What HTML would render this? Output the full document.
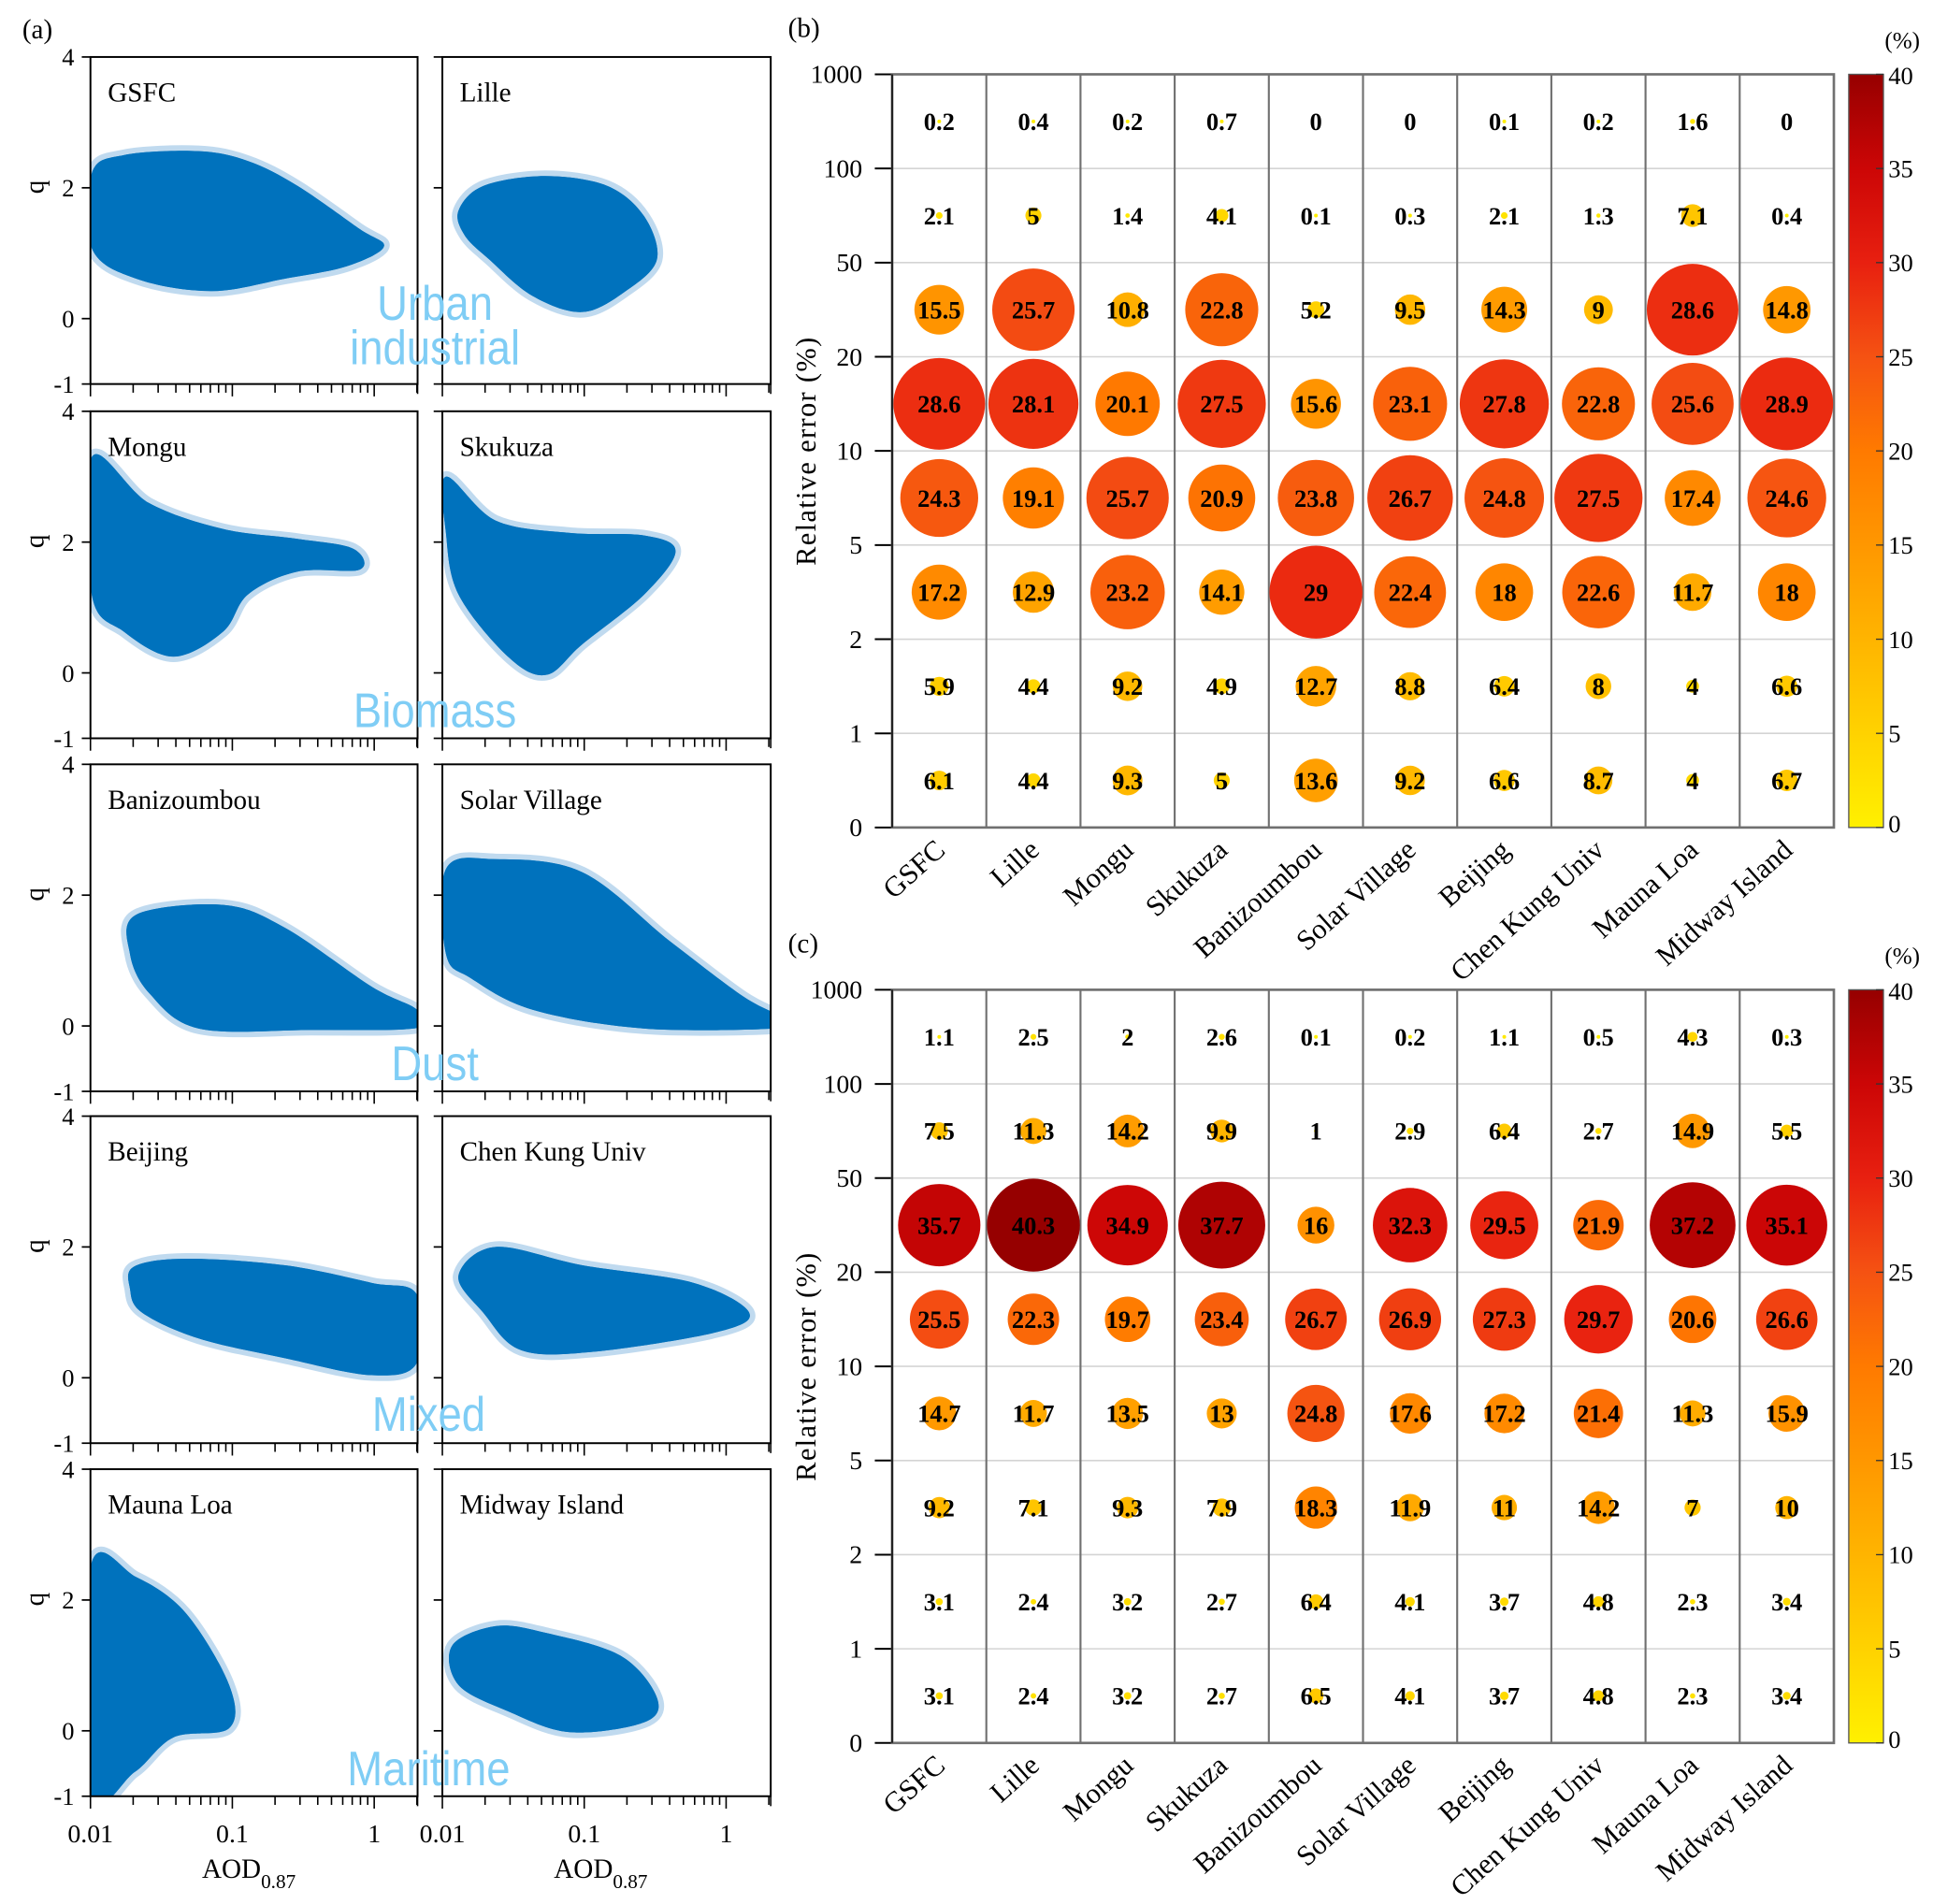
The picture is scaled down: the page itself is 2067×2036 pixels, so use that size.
<!DOCTYPE html>
<html><head><meta charset="utf-8"><style>
html,body{margin:0;padding:0;background:#fff;}
svg{display:block;}
.serif{font-family:"Liberation Serif",serif;}
.sans{font-family:"Liberation Sans",sans-serif;}
</style></head><body>
<svg id="fig" xmlns="http://www.w3.org/2000/svg" width="2067" height="2036" viewBox="0 0 1560 1537" preserveAspectRatio="none">
<defs>
<linearGradient id="cmap" x1="0" y1="1" x2="0" y2="0">
<stop offset="0" stop-color="#fff000"/><stop offset="0.25" stop-color="#ffb400"/>
<stop offset="0.5" stop-color="#ff7a00"/><stop offset="0.625" stop-color="#f55212"/>
<stop offset="0.75" stop-color="#e82010"/><stop offset="0.875" stop-color="#cc0606"/>
<stop offset="1" stop-color="#960000"/></linearGradient>
</defs>
<g id="pa"></g>
<g id="pb"></g>
<g id="pc"></g>
</svg>
<script>
// ---- panel (a) data: cloud outlines [AOD, q]
const siteNamesA = ["GSFC","Lille","Mongu","Skukuza","Banizoumbou","Solar Village","Beijing","Chen Kung Univ","Mauna Loa","Midway Island"];
const typeLabels = [["Urban","industrial"],["Biomass"],["Dust"],["Mixed"],["Maritime"]];
const cloudGSFC = [[0.0102,2.22],[0.0172,2.5],[0.0575,2.56],[0.129,2.41],[0.288,2.03],[0.79,1.37],[1.17,1.1],[0.64,0.8],[0.235,0.61],[0.071,0.42],[0.021,0.61],[0.0102,1.08]];
const cloudLille = [[0.013,1.65],[0.0195,2.03],[0.053,2.18],[0.145,2.03],[0.265,1.56],[0.325,0.9],[0.196,0.42],[0.097,0.1],[0.043,0.35],[0.0215,0.9],[0.0144,1.27]];
const cloudMongu = [[0.0102,3.3],[0.0257,2.6],[0.086,2.2],[0.288,2.05],[0.71,1.9],[0.79,1.58],[0.288,1.55],[0.129,1.2],[0.086,0.63],[0.0385,0.25],[0.0172,0.63],[0.0102,1.2]];
const cloudSkukuza = [[0.0106,3.0],[0.0237,2.33],[0.079,2.14],[0.265,2.1],[0.44,1.86],[0.265,1.2],[0.097,0.44],[0.054,-0.03],[0.029,0.25],[0.013,1.2],[0.0106,2.14]];
const cloudBaniz = [[0.021,1.7],[0.086,1.85],[0.235,1.5],[0.96,0.6],[2.0,0.25],[2.0,-0.03],[0.35,-0.06],[0.058,-0.04],[0.026,0.5],[0.019,1.1]];
const cloudSolar = [[0.0106,2.4],[0.0237,2.55],[0.097,2.35],[0.4,1.3],[1.32,0.45],[2.5,0.13],[2.5,-0.03],[0.265,-0.04],[0.043,0.25],[0.0159,0.73],[0.0106,1.1]];
const cloudBeijing = [[0.0203,1.7],[0.047,1.82],[0.235,1.72],[0.96,1.45],[2.0,1.27],[2.0,0.23],[0.96,0.04],[0.235,0.3],[0.058,0.6],[0.023,1.0],[0.019,1.36]];
const cloudChenKung = [[0.013,1.56],[0.0237,2.0],[0.097,1.72],[0.59,1.45],[1.45,1.0],[0.87,0.7],[0.118,0.4],[0.036,0.42],[0.0195,0.99]];
const cloudMaunaLoa = [[0.01,2.5],[0.021,2.35],[0.047,1.8],[0.095,0.7],[0.095,0.04],[0.0385,-0.1],[0.0205,-0.63],[0.01,-0.95]];
const cloudMidway = [[0.0117,1.3],[0.0237,1.6],[0.053,1.5],[0.18,1.15],[0.325,0.51],[0.265,0.13],[0.079,-0.02],[0.029,0.3],[0.013,0.7]];
const cloudsA = [cloudGSFC,cloudLille,cloudMongu,cloudSkukuza,cloudBaniz,cloudSolar,cloudBeijing,cloudChenKung,cloudMaunaLoa,cloudMidway];

// ---- panels (b),(c) data
const stations = ["GSFC","Lille","Mongu","Skukuza","Banizoumbou","Solar Village","Beijing","Chen Kung Univ","Mauna Loa","Midway Island"];
const yTickLabels = ["1000","100","50","20","10","5","2","1","0"];
const cbarTicks = [0,5,10,15,20,25,30,35,40];
const bRow1 = [0.2,0.4,0.2,0.7,0,0,0.1,0.2,1.6,0];
const bRow2 = [2.1,5,1.4,4.1,0.1,0.3,2.1,1.3,7.1,0.4];
const bRow3 = [15.5,25.7,10.8,22.8,5.2,9.5,14.3,9,28.6,14.8];
const bRow4 = [28.6,28.1,20.1,27.5,15.6,23.1,27.8,22.8,25.6,28.9];
const bRow5 = [24.3,19.1,25.7,20.9,23.8,26.7,24.8,27.5,17.4,24.6];
const bRow6 = [17.2,12.9,23.2,14.1,29,22.4,18,22.6,11.7,18];
const bRow7 = [5.9,4.4,9.2,4.9,12.7,8.8,6.4,8,4,6.6];
const bRow8 = [6.1,4.4,9.3,5,13.6,9.2,6.6,8.7,4,6.7];
const cRow1 = [1.1,2.5,2,2.6,0.1,0.2,1.1,0.5,4.3,0.3];
const cRow2 = [7.5,11.3,14.2,9.9,1,2.9,6.4,2.7,14.9,5.5];
const cRow3 = [35.7,40.3,34.9,37.7,16,32.3,29.5,21.9,37.2,35.1];
const cRow4 = [25.5,22.3,19.7,23.4,26.7,26.9,27.3,29.7,20.6,26.6];
const cRow5 = [14.7,11.7,13.5,13,24.8,17.6,17.2,21.4,11.3,15.9];
const cRow6 = [9.2,7.1,9.3,7.9,18.3,11.9,11,14.2,7,10];
const cRow7 = [3.1,2.4,3.2,2.7,6.4,4.1,3.7,4.8,2.3,3.4];
const cRow8 = [3.1,2.4,3.2,2.7,6.5,4.1,3.7,4.8,2.3,3.4];

const NS="http://www.w3.org/2000/svg";
function mk(tag, attrs, parent){const e=document.createElementNS(NS,tag);for(const k in attrs)e.setAttribute(k,attrs[k]);if(parent)parent.appendChild(e);return e;}

// ---------- panel (a)
const pa=document.getElementById('pa');
let t=mk('text',{x:18,y:31,'font-size':22,class:'serif'},pa);t.textContent='(a)';


const colX=[73,357], panelW=[264,265], rowTop=[46,332,617,901,1186], panelH=264;
function smoothPath(pts){let d='';const n=pts.length;for(let i=0;i<n;i++){const p0=pts[(i-1+n)%n],p1=pts[i],p2=pts[(i+1)%n],p3=pts[(i+2)%n];if(i===0)d+='M'+p1[0].toFixed(1)+','+p1[1].toFixed(1);const c1=[p1[0]+(p2[0]-p0[0])/6,p1[1]+(p2[1]-p0[1])/6],c2=[p2[0]-(p3[0]-p1[0])/6,p2[1]-(p3[1]-p1[1])/6];d+='C'+c1[0].toFixed(1)+','+c1[1].toFixed(1)+' '+c2[0].toFixed(1)+','+c2[1].toFixed(1)+' '+p2[0].toFixed(1)+','+p2[1].toFixed(1);}return d+'Z';}
for(let i=0;i<10;i++){
  const r=Math.floor(i/2), c=i%2, x0=colX[c], y0=rowTop[r], w=panelW[c];
  const xs=v=>x0+(Math.log10(v)+2)*114.5;
  const ys=q=>y0+(4-q)*52.8;
  const g=mk('g',{},pa);
  
  
  const clip='clip'+i;
  const cp=mk('clipPath',{id:clip},g);mk('rect',{x:x0,y:y0,width:w,height:panelH},cp);
  const pts=cloudsA[i].map(p=>[xs(p[0]),ys(p[1])]);
  const d=smoothPath(pts);
  const halo=mk('path',{d:d,fill:'#0072bd',stroke:'#2f86c9','stroke-opacity':0.3,'stroke-width':9,'stroke-linejoin':'round','clip-path':'url(#'+clip+')'},g);
  
  
  const body=mk('path',{d:d,fill:'#0072bd','clip-path':'url(#'+clip+')'},g);
  
  
  const fr=mk('rect',{x:x0,y:y0,width:w,height:panelH,fill:'none',stroke:'#000','stroke-width':1.5},g);
  
  
  [4,2,0,-1].forEach(q=>{mk('line',{x1:x0-7,x2:x0,y1:ys(q),y2:ys(q),stroke:'#000','stroke-width':1.3},g);
    if(c===0){const tl=mk('text',{x:x0-13,y:ys(q)+7,'font-size':20,'text-anchor':'end',class:'serif'},g);tl.textContent=String(q);
      
      }});
  for(let dec=-2;dec<=0;dec++){for(let m=1;m<=9;m++){const v=m*Math.pow(10,dec);const xx=xs(v);if(xx>x0+w+0.5)continue;mk('line',{x1:xx,x2:xx,y1:y0+panelH,y2:y0+panelH+(m===1?10:7),stroke:'#000','stroke-width':1.2},g);}}
  mk('line',{x1:x0+w,x2:x0+w,y1:y0+panelH,y2:y0+panelH+8,stroke:'#000','stroke-width':1.2},g);
  if(r===4){[0.01,0.1,1].forEach(v=>{const tl=mk('text',{x:xs(v),y:y0+panelH+37,'font-size':21,'text-anchor':'middle',class:'serif'},g);tl.textContent=String(v);
      
      });
    const xl=mk('text',{x:x0+90,y:y0+panelH+66,'font-size':22,class:'serif'},g);xl.innerHTML='AOD<tspan font-size="16" dy="8">0.87</tspan>';
    
    }
  if(c===0){const yl=mk('text',{x:0,y:0,'font-size':22,'text-anchor':'middle',class:'serif',transform:'translate(35,'+(y0+105)+') rotate(-90)'},g);yl.textContent='q';
    
    }
  const nm=mk('text',{x:x0+14,y:y0+36,'font-size':22,class:'serif'},g);nm.textContent=siteNamesA[i];
  
  
}
const typeY=[[258,294],[587],[872],[1155],[1441]];
typeLabels.forEach((lines,k)=>{lines.forEach((s,j)=>{const tl=mk('text',{x:0,y:0,'font-size':39,'text-anchor':'middle',fill:'#7fcdf5',class:'sans',transform:'translate('+(k>=3?346:351)+','+typeY[k][j]+') scale(0.88,1)'},pa);tl.textContent=s;
  
  });});

// ---------- panels (b),(c)
function colorFor(v){const stops=[[0,[255,240,0]],[10,[255,180,0]],[20,[255,122,0]],[25,[245,82,18]],[30,[232,32,16]],[35,[204,6,6]],[40,[150,0,0]]];
  v=Math.max(0,Math.min(40,v));for(let i=0;i<stops.length-1;i++){const a=stops[i],b=stops[i+1];if(v<=b[0]){const f=(v-a[0])/(b[0]-a[0]);const c=a[1].map((x,k)=>Math.round(x+(b[1][k]-x)*f));return 'rgb('+c.join(',')+')';}}return 'rgb(150,0,0)';}
function bubblePanel(gid, label, top, rows){
  const g=document.getElementById(gid);
  const L=720, R=1480, B=top+608, rowH=76, colW=76;
  const lb=mk('text',{x:636,y:top-30,'font-size':22,class:'serif'},g);lb.textContent=label;
  
  
  mk('rect',{x:L,y:top,width:R-L,height:B-top,fill:'#fff'},g);
  yTickLabels.forEach((s,k)=>{const yy=top+k*rowH;
    if(k>0&&k<8){const gl=mk('line',{x1:L,x2:R,y1:yy,y2:yy,stroke:'#d4d4d4','stroke-width':1.2},g);
      
      }
    mk('line',{x1:L-14,x2:L,y1:yy,y2:yy,stroke:'#000','stroke-width':1.5},g);
    const tl=mk('text',{x:L-24,y:yy+7,'font-size':21,'text-anchor':'end',class:'serif'},g);tl.textContent=s;
    
    });
  for(let j=1;j<10;j++){mk('line',{x1:L+j*colW,x2:L+j*colW,y1:top,y2:B,stroke:'#707070','stroke-width':1.6},g);}
  const fr=mk('rect',{x:L,y:top,width:R-L,height:B-top,fill:'none',stroke:'#707070','stroke-width':2},g);
  
  
  mk('line',{x1:L,x2:L,y1:top,y2:B,stroke:'#222','stroke-width':1.6},g);
  let mx=0;rows.forEach(r=>r.forEach(v=>{if(v>mx)mx=v;}));
  rows.forEach((vals,ri)=>{vals.forEach((v,ci)=>{const cx=L+colW*(ci+0.5), cy=top+rowH*(ri+0.5);
    const rad=v>0?Math.max(1.5,37.5*v/mx):0;
    if(rad>0){const c=mk('circle',{cx:cx,cy:cy,r:rad,fill:colorFor(v)},g);
      
      }
    const tx=mk('text',{x:cx,y:cy+7,'font-size':20,'font-weight':'bold','text-anchor':'middle',class:'serif'},g);tx.textContent=String(v);
    
    });});
  stations.forEach((s,ci)=>{const cx=L+colW*(ci+0.5)+6;const tl=mk('text',{x:0,y:0,'font-size':23,'text-anchor':'end',class:'serif',transform:'translate('+cx+','+(B+20)+') rotate(-42)'},g);tl.textContent=s;
    
    });
  const yl=mk('text',{x:0,y:0,'font-size':23,'text-anchor':'middle',class:'serif','letter-spacing':1,transform:'translate(658,'+(top+304)+') rotate(-90)'},g);yl.textContent='Relative error (%)';
  
  
  const cb=mk('rect',{x:1492,y:top,width:28,height:608,fill:'url(#cmap)',stroke:'#555','stroke-width':1},g);
  
  
  cbarTicks.forEach(v=>{const yy=B-v/40*608;mk('line',{x1:1514,x2:1520,y1:yy,y2:yy,stroke:'#333','stroke-width':1},g);
    const tl=mk('text',{x:1524,y:yy+(v===40?8:(v===0?4:7)),'font-size':20,class:'serif'},g);tl.textContent=String(v);
    
    });
  const pc=mk('text',{x:1521,y:top-21,'font-size':19,class:'serif'},g);pc.textContent='(%)';
  
  
}
bubblePanel('pb','(b)',60,[bRow1,bRow2,bRow3,bRow4,bRow5,bRow6,bRow7,bRow8]);
bubblePanel('pc','(c)',799,[cRow1,cRow2,cRow3,cRow4,cRow5,cRow6,cRow7,cRow8]);
</script>
</body></html>
